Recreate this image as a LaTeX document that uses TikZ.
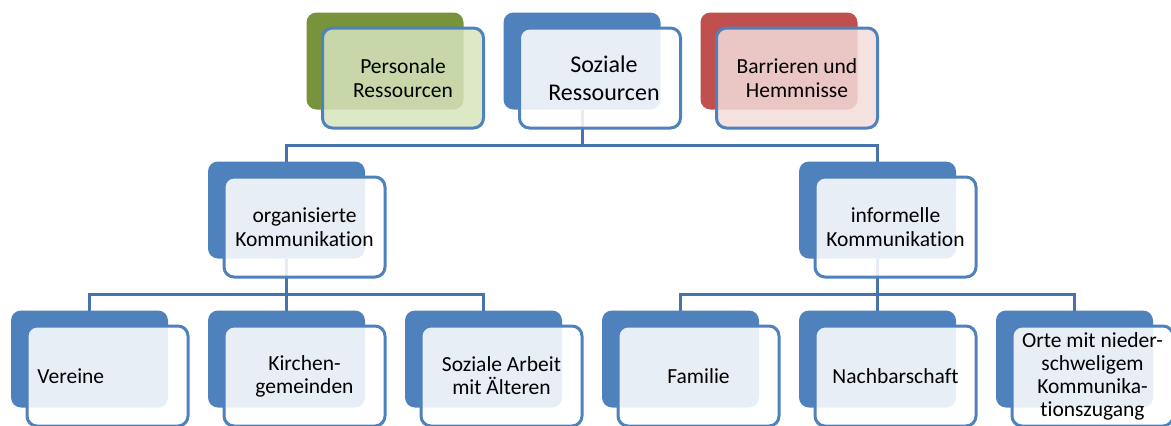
\documentclass[tikz,border=0pt]{standalone}
\usepackage{fontspec}
\setmainfont[Ligatures=NoCommon]{Carlito}
\definecolor{smBlue}{RGB}{79, 129, 189}
\definecolor{smLine}{RGB}{70, 114, 174}
\definecolor{smGreen}{RGB}{119, 147, 60}
\definecolor{smGreenL}{RGB}{215, 228, 189}
\definecolor{smRed}{RGB}{192, 80, 77}
\definecolor{smRedL}{RGB}{242, 220, 219}
\usetikzlibrary{positioning, calc, backgrounds}

\begin{document}
\begin{tikzpicture}[
    x=1pt, y=1pt,
    node distance=52pt and 40pt,
    back/.style={rectangle, fill=smBlue, rounded corners=10pt, minimum width=157pt,
                 minimum height=97pt, inner sep=0pt, outer sep=0pt},
    front/.style={rectangle, draw=smBlue, line width=3pt, fill=white, fill opacity=0.87,
                  text opacity=1, rounded corners=10pt, minimum width=161pt,
                  minimum height=100pt, align=center, xshift=18pt, yshift=-17pt,
                  font=\fontsize{21.5}{24}\selectfont},
    leaf/.style={front, font=\fontsize{21.5}{23}\selectfont},
    conn/.style={draw=smLine, line width=3pt}
  ]
    \useasboundingbox (0,0) rectangle (1171,-426);
    \clip (0,0) rectangle (1171,-426);

    % Bottom row: places of communication
    \node[back] (verB) at (89.5,-359) {};
    \node[leaf, text width=140pt, align=left] (ver) at (verB) {Vereine};
    \node[back, right=of verB] (kirB) {};
    \node[leaf] (kir) at (kirB) {Kirchen-\\gemeinden};
    \node[back, right=of kirB] (sarbB) {};
    \node[leaf] (sarb) at (sarbB) {Soziale Arbeit\\mit Älteren};
    \node[back, right=of sarbB] (famB) {};
    \node[leaf] (fam) at (famB) {Familie};
    \node[back, right=of famB] (nachB) {};
    \node[leaf] (nach) at (nachB) {Nachbarschaft};
    \node[back, right=of nachB] (orteB) {};
    \node[leaf] (orte) at (orteB) {Orte mit nieder-\\schweligem\\Kommunika-\\tionszugang};

    % Middle row: kinds of communication
    \node[back, above=of kirB] (orgB) {};
    \node[front] (org) at (orgB) {organisierte\\Kommunikation};
    \node[back, above=of nachB] (infB) {};
    \node[front] (inf) at (infB) {informelle\\Kommunikation};

    % Top row: resources
    \node[back, above=of $(orgB.north)!0.5!(infB.north)$] (sozB) {};
    \node[front, font=\fontsize{24}{28}\selectfont] (soz) at (sozB) {\hspace*{8pt}Soziale\\\hspace*{8pt}Ressourcen};
    \node[back, fill=smGreen, left=of sozB] (persB) {};
    \node[front, fill=smGreenL, fill opacity=0.85] (pers) at (persB) {Personale\\Ressourcen};
    \node[back, fill=smRed, right=of sozB] (barrB) {};
    \node[front, fill=smRedL, fill opacity=0.85] (barr) at (barrB) {Barrieren und\\Hemmnisse};

    \begin{scope}[on background layer]
      \draw[conn] (sozB.south) |- ($(soz.south)!0.5!(orgB.north)$) -| (orgB.north);
      \draw[conn] (sozB.south) |- ($(soz.south)!0.5!(infB.north)$) -| (infB.north);
      \draw[conn] (orgB.south) |- ($(org.south)!0.5!(verB.north)$) -| (verB.north);
      \draw[conn] (orgB.south) -- (kirB.north);
      \draw[conn] (orgB.south) |- ($(org.south)!0.5!(sarbB.north)$) -| (sarbB.north);
      \draw[conn] (infB.south) |- ($(inf.south)!0.5!(famB.north)$) -| (famB.north);
      \draw[conn] (infB.south) -- (nachB.north);
      \draw[conn] (infB.south) |- ($(inf.south)!0.5!(orteB.north)$) -| (orteB.north);
    \end{scope}
  \end{tikzpicture}
\end{document}
